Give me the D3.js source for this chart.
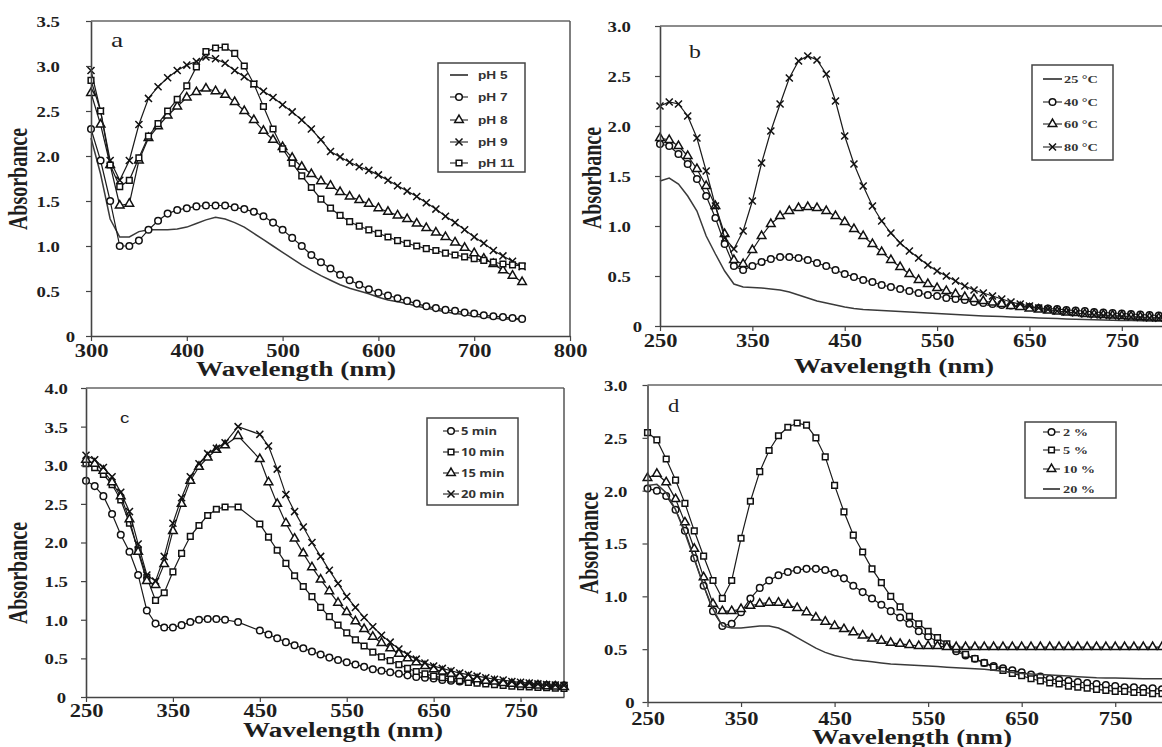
<!DOCTYPE html>
<html><head><meta charset="utf-8">
<script src="https://cdn.jsdelivr.net/npm/d3@7/dist/d3.min.js"></script>
<style>body{margin:0;background:#fff}svg{display:block}</style>
</head><body>
<svg id="chart" width="1162" height="747"></svg>
<script>
// ---------------- DATA ----------------
// Panel a : pH
const wlA = [300,310,320,330,340,350,360,370,380,390,400,410,420,430,440,450,460,470,480,490,500,510,520,530,540,550,560,570,580,590,600,610,620,630,640,650,660,670,680,690,700,710,720,730,740,750];
const pH5  = [2.2,1.8,1.3,1.1,1.1,1.16,1.18,1.18,1.18,1.19,1.21,1.25,1.29,1.32,1.3,1.26,1.21,1.14,1.07,1.0,0.93,0.86,0.79,0.73,0.67,0.62,0.57,0.53,0.5,0.47,0.43,0.4,0.38,0.36,0.33,0.31,0.29,0.27,0.25,0.24,0.22,0.21,0.2,0.19,0.19,0.18];
const pH7  = [2.3,1.95,1.5,1.0,1.0,1.06,1.18,1.28,1.36,1.4,1.42,1.44,1.45,1.45,1.45,1.43,1.41,1.38,1.33,1.26,1.18,1.09,1.0,0.9,0.82,0.75,0.68,0.62,0.57,0.52,0.48,0.45,0.42,0.39,0.36,0.33,0.31,0.29,0.28,0.26,0.25,0.23,0.22,0.21,0.2,0.19];
const pH8  = [2.7,2.35,1.9,1.45,1.47,1.95,2.2,2.33,2.45,2.55,2.65,2.71,2.75,2.72,2.68,2.6,2.5,2.4,2.28,2.18,2.1,1.98,1.88,1.8,1.72,1.67,1.6,1.55,1.51,1.47,1.42,1.38,1.34,1.3,1.25,1.2,1.15,1.1,1.04,0.98,0.92,0.86,0.8,0.73,0.67,0.6];
const pH9  = [2.95,2.5,1.95,1.73,1.95,2.35,2.64,2.77,2.87,2.95,3.01,3.05,3.1,3.08,3.03,2.95,2.88,2.8,2.72,2.65,2.57,2.49,2.4,2.3,2.18,2.05,1.99,1.93,1.88,1.84,1.79,1.73,1.67,1.61,1.55,1.48,1.41,1.33,1.26,1.18,1.1,1.03,0.95,0.89,0.83,0.77];
const pH11 = [2.84,2.5,1.9,1.66,1.73,1.98,2.22,2.36,2.5,2.63,2.78,2.99,3.16,3.2,3.21,3.14,3.0,2.8,2.55,2.3,2.08,1.92,1.78,1.65,1.52,1.42,1.34,1.27,1.22,1.18,1.14,1.1,1.06,1.03,1.0,0.97,0.95,0.92,0.9,0.88,0.86,0.84,0.82,0.8,0.79,0.78];

// Panel b : temperature
const wlB = [250,260,270,280,290,300,310,320,330,340,350,360,370,380,390,400,410,420,430,440,450,460,470,480,490,500,510,520,530,540,550,560,570,580,590,600,610,620,630,640,650,660,670,680,690,700,710,720,730,740,750,760,770,780,790,800];
const t25 = [1.45,1.48,1.42,1.3,1.15,0.9,0.72,0.55,0.42,0.39,0.385,0.38,0.37,0.36,0.34,0.31,0.28,0.25,0.23,0.21,0.19,0.175,0.165,0.16,0.155,0.15,0.145,0.14,0.135,0.13,0.125,0.12,0.115,0.11,0.105,0.1,0.097,0.094,0.09,0.087,0.084,0.08,0.077,0.074,0.071,0.068,0.065,0.063,0.06,0.058,0.056,0.054,0.052,0.05,0.05,0.05];
const t40 = [1.82,1.8,1.72,1.62,1.47,1.3,1.08,0.82,0.6,0.56,0.6,0.64,0.67,0.69,0.69,0.68,0.66,0.63,0.6,0.56,0.52,0.49,0.46,0.44,0.41,0.39,0.37,0.35,0.33,0.31,0.3,0.28,0.27,0.26,0.24,0.23,0.22,0.21,0.205,0.2,0.19,0.18,0.175,0.17,0.16,0.155,0.15,0.14,0.135,0.13,0.125,0.12,0.115,0.11,0.105,0.1];
const t60 = [1.88,1.86,1.8,1.7,1.57,1.4,1.2,0.92,0.66,0.62,0.76,0.9,1.02,1.1,1.15,1.18,1.19,1.18,1.15,1.1,1.04,0.97,0.9,0.82,0.74,0.66,0.59,0.52,0.46,0.42,0.38,0.35,0.32,0.29,0.27,0.25,0.235,0.22,0.2,0.19,0.175,0.165,0.155,0.145,0.135,0.13,0.12,0.115,0.11,0.105,0.1,0.095,0.09,0.085,0.08,0.08];
const t80 = [2.2,2.24,2.22,2.1,1.88,1.55,1.2,0.88,0.77,0.95,1.25,1.63,1.95,2.22,2.48,2.65,2.7,2.66,2.52,2.25,1.9,1.62,1.4,1.2,1.05,0.93,0.83,0.75,0.68,0.61,0.55,0.5,0.45,0.4,0.36,0.33,0.3,0.27,0.24,0.22,0.2,0.18,0.165,0.15,0.14,0.13,0.12,0.11,0.105,0.1,0.095,0.09,0.085,0.08,0.078,0.075];

// Panel c : time
const wlC = [250,260,270,280,290,300,310,320,330,340,350,360,370,380,390,400,410,425,450,460,470,480,490,500,510,520,530,540,550,560,570,580,590,600,610,620,630,640,650,660,670,680,690,700,710,720,730,740,750,760,770,780,790,800];
const m5  = [2.8,2.73,2.6,2.37,2.1,1.88,1.58,1.12,0.95,0.9,0.9,0.93,0.97,1.0,1.01,1.01,1.0,0.97,0.86,0.81,0.76,0.71,0.67,0.63,0.59,0.55,0.51,0.48,0.45,0.42,0.39,0.36,0.34,0.32,0.3,0.28,0.26,0.25,0.24,0.22,0.21,0.2,0.2,0.19,0.185,0.18,0.175,0.17,0.165,0.16,0.16,0.155,0.15,0.15];
const m10 = [3.02,2.97,2.88,2.75,2.55,2.25,1.9,1.55,1.25,1.35,1.62,1.86,2.08,2.22,2.35,2.43,2.46,2.46,2.24,2.07,1.9,1.73,1.57,1.43,1.3,1.16,1.04,0.93,0.83,0.74,0.66,0.58,0.52,0.47,0.42,0.37,0.33,0.3,0.27,0.25,0.23,0.21,0.19,0.18,0.17,0.16,0.15,0.14,0.135,0.13,0.125,0.12,0.115,0.11];
const m15 = [3.07,3.02,2.93,2.78,2.6,2.3,1.88,1.5,1.45,1.72,2.15,2.5,2.8,2.98,3.1,3.2,3.26,3.38,3.08,2.78,2.5,2.25,2.05,1.86,1.68,1.52,1.37,1.22,1.1,0.98,0.88,0.78,0.7,0.63,0.56,0.5,0.45,0.4,0.36,0.33,0.3,0.27,0.25,0.23,0.21,0.2,0.18,0.17,0.16,0.155,0.15,0.14,0.135,0.13];
const m20 = [3.13,3.07,2.97,2.85,2.65,2.4,1.98,1.58,1.5,1.82,2.25,2.58,2.85,3.02,3.15,3.22,3.29,3.5,3.4,3.25,2.95,2.62,2.4,2.2,2.0,1.82,1.64,1.47,1.3,1.16,1.03,0.91,0.8,0.71,0.62,0.55,0.49,0.44,0.4,0.37,0.34,0.31,0.29,0.27,0.25,0.23,0.22,0.2,0.19,0.18,0.17,0.16,0.155,0.15];

// Panel d : concentration
const wlD = wlB.slice();
const c2  = [2.02,2.0,1.95,1.82,1.62,1.36,1.1,0.86,0.72,0.74,0.85,0.98,1.08,1.15,1.2,1.23,1.25,1.26,1.26,1.25,1.22,1.17,1.1,1.04,0.98,0.92,0.86,0.8,0.74,0.67,0.62,0.57,0.53,0.48,0.44,0.41,0.37,0.34,0.32,0.3,0.28,0.26,0.24,0.22,0.21,0.2,0.19,0.18,0.17,0.16,0.15,0.14,0.14,0.13,0.13,0.12];
const c5  = [2.55,2.48,2.3,2.1,1.88,1.62,1.38,1.15,0.98,1.15,1.55,1.9,2.18,2.38,2.52,2.6,2.64,2.62,2.5,2.32,2.05,1.8,1.58,1.42,1.26,1.13,1.0,0.9,0.81,0.74,0.67,0.61,0.55,0.5,0.45,0.41,0.37,0.33,0.3,0.27,0.25,0.22,0.2,0.18,0.17,0.15,0.14,0.13,0.12,0.11,0.1,0.1,0.09,0.09,0.08,0.08];
const c10 = [2.12,2.16,2.08,1.92,1.7,1.45,1.18,0.93,0.86,0.86,0.88,0.91,0.93,0.94,0.94,0.92,0.89,0.85,0.8,0.76,0.72,0.69,0.66,0.63,0.6,0.58,0.56,0.55,0.54,0.53,0.53,0.53,0.52,0.52,0.52,0.52,0.52,0.52,0.52,0.52,0.52,0.52,0.52,0.52,0.52,0.52,0.52,0.52,0.52,0.52,0.52,0.52,0.52,0.52,0.52,0.52];
const c20 = [2.05,2.06,1.98,1.82,1.6,1.35,1.1,0.88,0.72,0.7,0.7,0.71,0.72,0.72,0.7,0.66,0.61,0.56,0.51,0.47,0.44,0.42,0.4,0.39,0.38,0.37,0.36,0.355,0.35,0.345,0.34,0.335,0.33,0.325,0.32,0.315,0.31,0.3,0.29,0.28,0.27,0.265,0.26,0.255,0.25,0.245,0.24,0.235,0.23,0.228,0.226,0.224,0.222,0.22,0.22,0.22];

// tick values and labels
const xTicksA = [300,400,500,600,700,800];
const yTicksA = [0,0.5,1.0,1.5,2.0,2.5,3.0,3.5];
const xTicksBCD = [250,350,450,550,650,750];
const yTicksB = [0,0.5,1.0,1.5,2.0,2.5,3.0];
const yTicksC = [0,0.5,1.0,1.5,2.0,2.5,3.0,3.5,4.0];
const yTicksD = [0,0.5,1.0,1.5,2.0,2.5,3.0];
const namesA = ["pH 5","pH 7","pH 8","pH 9","pH 11"];
const namesB = ["25 \u00B0C","40 \u00B0C","60 \u00B0C","80 \u00B0C"];
const namesC = ["5 min","10 min","15 min","20 min"];
const namesD = ["2 %","5 %","10 %","20 %"];
const xTitle = "Wavelength (nm)";
const yTitle = "Absorbance";

// ---------------- LAYOUT ----------------
const SERIF = "'Liberation Serif','Times New Roman',serif";
const SANS = "'Liberation Sans',Arial,sans-serif";
const INK = "#1e1e1e";
const svg = d3.select("#chart");

const panels = [
  {letter:"a", letterPos:[111,47], letterFont:SERIF, letterSize:22,
   xDom:[300,800], xR:[91,570], yDom:[0,3.5], yR:[336,21],
   xTicks:xTicksA, yTicks:yTicksA, yOff:-31, yOff0:-16, xBase:21,
   frameRight:true, frameEnd:570,
   xTitlePos:[296,376], yTitlePos:[18,179],
   wl:wlA, series:[[pH5,"line"],[pH7,"circle"],[pH8,"triangle"],[pH9,"cross"],[pH11,"square"]], names:namesA,
   legend:{box:[438,63,87,109], ys:[75,97,120,142,163], x1:450, x2:468, tx:478, font:SANS, size:10.5}},
  {letter:"b", letterPos:[689,58], letterFont:SERIF, letterSize:19,
   xDom:[250,800], xR:[660,1168], yDom:[0,3], yR:[326,26],
   xTicks:xTicksBCD, yTicks:yTicksB, yOff:-29, yOff0:-18, xBase:21,
   frameRight:false, frameEnd:1162,
   xTitlePos:[894,373], yTitlePos:[592,178],
   wl:wlB, series:[[t25,"line"],[t40,"circle"],[t60,"triangle"],[t80,"cross"]], names:namesB,
   legend:{box:[1032,65,81,95], ys:[79,102,124,147], x1:1043, x2:1062, tx:1064, font:SERIF, size:11}},
  {letter:"c", letterPos:[120,423], letterFont:SANS, letterSize:15,
   xDom:[250,800], xR:[86,564], yDom:[0,4], yR:[697,388],
   xTicks:xTicksBCD, yTicks:yTicksC, yOff:-18, yOff0:-20, xBase:20,
   frameRight:true, frameEnd:564,
   xTitlePos:[343,737], yTitlePos:[18,573],
   wl:wlC, series:[[m5,"circle"],[m10,"square"],[m15,"triangle"],[m20,"cross"]], names:namesC,
   legend:{box:[427,418,91,87], ys:[431,452,473,494], x1:443, x2:459, tx:461, font:"'Open Sans',Arial,sans-serif", size:10}},
  {letter:"d", letterPos:[668,412], letterFont:SERIF, letterSize:18,
   xDom:[250,800], xR:[647.5,1162], yDom:[0,3], yR:[702,385],
   xTicks:xTicksBCD, yTicks:yTicksD, yOff:-20, yOff0:-13, xBase:23,
   frameRight:false, frameEnd:1162,
   xTitlePos:[912,744], yTitlePos:[589,543],
   wl:wlD, series:[[c2,"circle"],[c5,"square"],[c10,"triangle"],[c20,"line"]], names:namesD,
   legend:{box:[1025,422,91,76], ys:[432,450,469,489], x1:1043, x2:1060, tx:1063, font:SERIF, size:11}}
];

const symType = {circle:d3.symbolCircle, square:d3.symbolSquare, triangle:d3.symbolTriangle, cross:d3.symbolTimes};
const symSize = {circle:34, square:32, triangle:32, cross:34};

function drawMarker(g, type, x, y) {
  if (type === "line") return;
  g.append("path")
    .attr("d", d3.symbol().type(symType[type]).size(symSize[type])())
    .attr("transform", `translate(${x},${y})`)
    .attr("fill", type === "cross" ? "none" : "#fff")
    .attr("stroke", "#111").attr("stroke-width", 1.5);
}

function stretchText(g, x, y, str, o) {
  const t = g.append("text")
    .attr("transform", `translate(${x},${y}) scale(${o.sx||1},1)` + (o.rot ? ` rotate(${o.rot})` : ""))
    .attr("font-family", o.font || SERIF)
    .attr("font-size", o.size)
    .attr("font-weight", o.weight || "bold")
    .attr("text-anchor", o.anchor || "start")
    .attr("fill", o.fill || INK)
    .text(str);
  if (o.dy) t.attr("dy", o.dy);
  return t;
}

panels.forEach(p => {
  const x = d3.scaleLinear().domain(p.xDom).range(p.xR);
  const y = d3.scaleLinear().domain(p.yDom).range(p.yR);
  const g = svg.append("g");

  // frame (top / right)
  g.append("line").attr("x1", p.xR[0]).attr("x2", p.frameEnd).attr("y1", p.yR[1]).attr("y2", p.yR[1])
    .attr("stroke", "#666").attr("stroke-width", 1.5);
  if (p.frameRight) {
    g.append("line").attr("x1", p.frameEnd).attr("x2", p.frameEnd).attr("y1", p.yR[1]).attr("y2", p.yR[0])
      .attr("stroke", "#555").attr("stroke-width", 1.5);
  }

  // series
  const clipId = "clip" + p.letter;
  svg.append("clipPath").attr("id", clipId).append("rect")
    .attr("x", p.xR[0] - 6).attr("y", p.yR[1] - 6).attr("width", p.frameEnd - p.xR[0] + 12).attr("height", p.yR[0] - p.yR[1] + 12);
  const sg = g.append("g").attr("clip-path", `url(#${clipId})`);
  p.series.forEach(([vals, type]) => {
    const pts = vals.map((v, i) => [x(p.wl[i]), y(v)]);
    sg.append("path").attr("d", d3.line()(pts)).attr("fill", "none")
      .attr("stroke", type === "line" ? "#3a3a3a" : "#1a1a1a")
      .attr("stroke-width", type === "line" ? 1.5 : 1.2);
    pts.forEach(([px, py]) => drawMarker(sg, type, px, py));
  });

  // axes
  const xAxis = d3.axisBottom(x).tickValues(p.xTicks).tickSize(5).tickSizeOuter(0).tickFormat(d3.format("d"));
  const gx = g.append("g").attr("transform", `translate(0,${p.yR[0]})`).call(xAxis);
  gx.select(".domain").attr("stroke", "#444").attr("stroke-width", 1.6);
  gx.selectAll(".tick line").attr("stroke", "#444").attr("stroke-width", 1.2);
  gx.selectAll(".tick text").attr("y", null).attr("dy", null)
    .attr("transform", `translate(0,${p.xBase}) scale(1.25,1)`)
    .attr("font-family", SERIF).attr("font-weight", "bold").attr("font-size", 18).attr("fill", INK);

  const yAxis = d3.axisLeft(y).tickValues(p.yTicks).tickSize(5).tickSizeOuter(0)
    .tickFormat(d => d === 0 ? "0" : d3.format(".1f")(d));
  const gy = g.append("g").attr("transform", `translate(${p.xR[0]},0)`).call(yAxis);
  gy.select(".domain").attr("stroke", "#444").attr("stroke-width", 1.6);
  gy.selectAll(".tick line").attr("stroke", "#444").attr("stroke-width", 1.2);
  gy.selectAll(".tick text").attr("x", null).attr("dy", "0.36em")
    .attr("transform", d => `translate(${d === 0 ? p.yOff0 : p.yOff},0) scale(1.25,1)`)
    .attr("font-family", SERIF).attr("font-weight", "bold").attr("font-size", 15).attr("fill", INK);

  // titles
  stretchText(g, p.xTitlePos[0], p.xTitlePos[1], xTitle, {size:20, sx:1.36, anchor:"middle"});
  stretchText(g, p.yTitlePos[0], p.yTitlePos[1], yTitle, {size:20, sx:1.35, anchor:"middle", rot:-90, dy:"0.35em"});

  // panel letter
  stretchText(g, p.letterPos[0], p.letterPos[1], p.letter, {size:p.letterSize, sx:1.25, weight:"normal", font:p.letterFont});

  // legend
  const L = p.legend;
  g.append("rect").attr("x", L.box[0]).attr("y", L.box[1]).attr("width", L.box[2]).attr("height", L.box[3])
    .attr("fill", "#fff").attr("stroke", "#444").attr("stroke-width", 1.5);
  p.series.forEach(([vals, type], i) => {
    const ly = L.ys[i];
    g.append("line").attr("x1", L.x1).attr("x2", L.x2).attr("y1", ly).attr("y2", ly)
      .attr("stroke", type === "line" ? "#555" : "#333").attr("stroke-width", type === "line" ? 2 : 1.2);
    drawMarker(g, type, (L.x1 + L.x2) / 2, ly);
    stretchText(g, L.tx, ly, p.names[i], {size:L.size, sx:1.3, font:L.font, dy:"0.35em", fill:"#333"});
  });
});
</script>
</body></html>
